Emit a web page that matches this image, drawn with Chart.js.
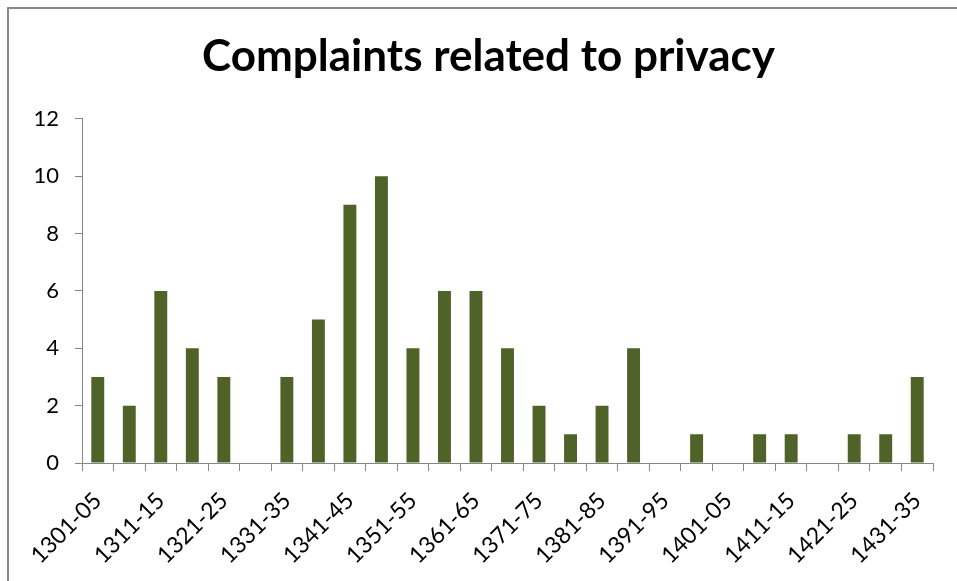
<!DOCTYPE html>
<html>
<head>
<meta charset="utf-8">
<script src="https://cdn.jsdelivr.net/npm/chart.js@4"></script>
<style>
    html, body { margin: 0; padding: 0; background: #fff; }
    #wrap { position: relative; width: 957px; height: 581px; overflow: hidden; }
    #frame {
        position: absolute; left: 7px; top: 7px; width: 980px; height: 600px;
        border-left: 2px solid #8a8a8a; border-top: 2px solid #8a8a8a;
        box-sizing: border-box;
    }
    canvas { position: absolute; left: 0; top: 0; }
</style>
</head>
<body>
<div id="wrap">
    <div id="frame"></div>
    <canvas id="privacyChart" width="957" height="581"></canvas>
</div>
<script>
const chartTitle = "Complaints related to privacy";

// five-year periods, 1301-05 .. 1431-35
const periods = [
    "1301-05", "1306-10", "1311-15", "1316-20", "1321-25", "1326-30", "1331-35",
    "1336-40", "1341-45", "1346-50", "1351-55", "1356-60", "1361-65", "1366-70",
    "1371-75", "1376-80", "1381-85", "1386-90", "1391-95", "1396-1400", "1401-05",
    "1406-10", "1411-15", "1416-20", "1421-25", "1426-30", "1431-35"
];

const complaints = [
    3, 2, 6, 4, 3, 0, 3,
    5, 9, 10, 4, 6, 6, 4,
    2, 1, 2, 4, 0, 1, 0,
    1, 1, 0, 1, 1, 3
];

const yTicks = { min: 0, max: 12, step: 2 };

const FONT = "Lato, 'Open Sans', sans-serif";
const axisGrey = "#868686";

// title in the original sits a bit right of the canvas centre
const titleShift = {
    id: "titleShift",
    afterLayout(chart) {
        const t = chart.titleBlock;
        if (t) { t.left += 12; t.right += 12; }
    }
};

const ctx = document.getElementById("privacyChart");
new Chart(ctx, {
    type: "bar",
    data: {
        labels: periods,
        datasets: [{
            label: "Complaints",
            data: complaints,
            backgroundColor: "#4f6228",
            borderWidth: 0,
            barPercentage: 0.41,
            categoryPercentage: 1.0
        }]
    },
    plugins: [titleShift],
    options: {
        responsive: false,
        animation: false,
        devicePixelRatio: 1,
        layout: { padding: { left: 20, right: 24, top: 0, bottom: 0 } },
        plugins: {
            legend: { display: false },
            tooltip: { enabled: false },
            title: {
                display: true,
                text: chartTitle,
                color: "#000",
                font: { family: FONT, size: 44, weight: "bold" },
                padding: { top: 30, bottom: 36 }
            }
        },
        scales: {
            x: {
                grid: {
                    display: true,
                    offset: true,
                    drawOnChartArea: false,
                    drawTicks: true,
                    tickLength: 8,
                    color: axisGrey
                },
                border: { display: true, color: axisGrey, width: 1 },
                ticks: {
                    autoSkip: false,
                    maxRotation: 45,
                    minRotation: 45,
                    padding: 16,
                    color: "#000",
                    font: { family: FONT, size: 23 },
                    callback: function (val, i) {
                        return i % 2 === 0 ? periods[i] : "";
                    }
                },
                afterFit: function (scale) { scale.height = 118; }
            },
            y: {
                min: yTicks.min,
                max: yTicks.max,
                grid: {
                    display: true,
                    drawOnChartArea: false,
                    drawTicks: true,
                    tickLength: 7,
                    color: axisGrey
                },
                border: { display: true, color: axisGrey, width: 1 },
                ticks: {
                    stepSize: yTicks.step,
                    padding: 16,
                    color: "#000",
                    font: { family: FONT, size: 22 }
                },
                afterFit: function (scale) { scale.width = 62; }
            }
        }
    }
});
</script>
</body>
</html>
